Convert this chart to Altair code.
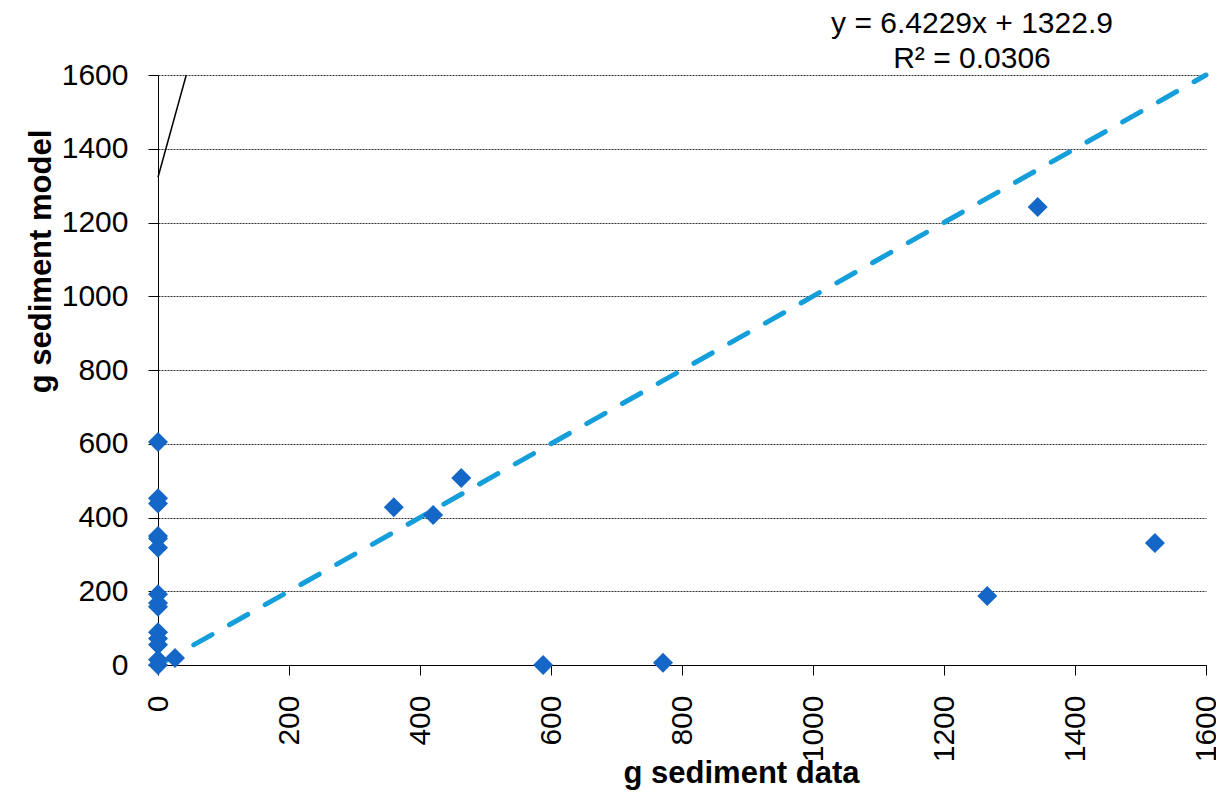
import altair as alt
import pandas as pd

# Scatter data (g sediment data vs g sediment model)
data_x = [0, 0, 0, 0, 0, 0, 0, 0, 0, 0, 0, 0, 0, 0, 26, 360, 420, 463, 588, 771, 1266, 1343, 1522]
model_y = [605, 452, 438, 350, 343, 318, 192, 168, 158, 89, 72, 55, 14, 0, 19, 428, 407, 507, 0, 6, 187, 1242, 331]

# 1:1 reference line
one_x = [0, 1600]
one_y = [0, 1600]

# Linear trendline y = 6.4229x + 1322.9 (clipped at the top of the plot)
slope = 6.4229
intercept = 1322.9
trend_x = [0, (1600 - intercept) / slope]
trend_y = [intercept, 1600]

tick_vals = [0, 200, 400, 600, 800, 1000, 1200, 1400, 1600]
eq_lines = ["y = 6.4229x + 1322.9", "R² = 0.0306"]

pts = pd.DataFrame({"x": data_x, "y": model_y})
one = pd.DataFrame({"x": one_x, "y": one_y})
trend = pd.DataFrame({"x": trend_x, "y": trend_y})

FONT = "Liberation Sans"
xscale = alt.Scale(domain=[0, 1600], nice=False, zero=True)
yscale = alt.Scale(domain=[0, 1600], nice=False, zero=True)

x_axis = alt.Axis(
    values=tick_vals, format="d", labelAngle=270, grid=False, tickSize=10, labelPadding=20,
    title="g sediment data", titleX=583, titleY=117, titleAlign="center",
    titleBaseline="alphabetic", titleAngle=0,
)
y_axis = alt.Axis(
    values=tick_vals, format="d", grid=True, gridColor="#333333", gridDash=[2, 1], gridWidth=1,
    tickSize=10, labelPadding=20,
    title="g sediment model", titleX=-108, titleY=186, titleAlign="center",
    titleBaseline="alphabetic", titleAngle=270,
)

base_pts = alt.Chart(pts).mark_point(
    shape="diamond", filled=True, size=400, color="#1467C6", opacity=1
).encode(
    x=alt.X("x:Q", scale=xscale, axis=x_axis),
    y=alt.Y("y:Q", scale=yscale, axis=y_axis),
)

one_line = alt.Chart(one).mark_line(
    color="#149FDA", strokeWidth=5, strokeDash=[21, 20], strokeCap="round"
).encode(
    x=alt.X("x:Q", scale=xscale),
    y=alt.Y("y:Q", scale=yscale),
)

trend_line = alt.Chart(trend).mark_line(color="black", strokeWidth=1.5).encode(
    x=alt.X("x:Q", scale=xscale),
    y=alt.Y("y:Q", scale=yscale),
)

eq1 = alt.Chart(pd.DataFrame({"t": [eq_lines[0]]})).mark_text(
    font=FONT, fontSize=30, align="center", baseline="alphabetic", color="black"
).encode(text="t:N", x=alt.value(814), y=alt.value(-42))

eq2 = alt.Chart(pd.DataFrame({"t": [eq_lines[1]]})).mark_text(
    font=FONT, fontSize=30, align="center", baseline="alphabetic", color="black"
).encode(text="t:N", x=alt.value(814), y=alt.value(-7))

chart = alt.layer(one_line, trend_line, base_pts, eq1, eq2).properties(
    width=1048,
    height=590,
    autosize=alt.AutoSizeParams(type="none"),
    padding={"left": 150, "top": 67, "right": 10, "bottom": 125},
).configure_view(strokeWidth=0).configure_axis(
    labelFont=FONT, labelFontSize=30, labelColor="black",
    titleFont=FONT, titleFontSize=31, titleFontWeight="bold", titleColor="black",
    domainColor="black", domainWidth=1, tickColor="black", tickWidth=1,
)

chart.save("out.html", embed_options={"renderer": "svg", "actions": False})
